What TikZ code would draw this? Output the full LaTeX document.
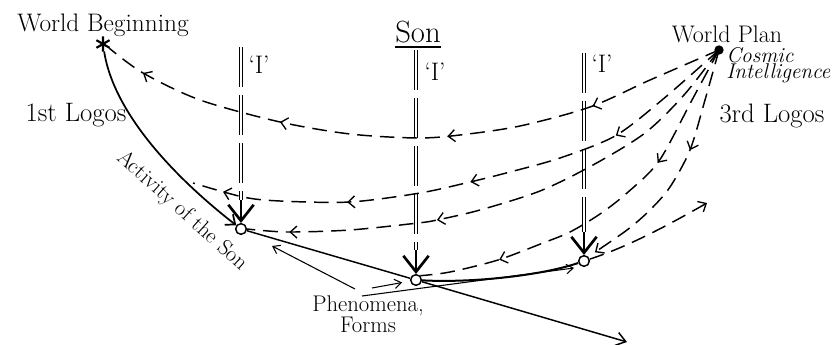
\documentclass[tikz,border=0pt]{standalone}
\usepackage{tikz}
\usetikzlibrary{arrows.meta,decorations.markings}

\tikzset{
  flowtip/.tip={Straight Barb[length=5pt,width=9pt,line width=1pt]},
  flow/.style={line width=1.1pt, dash pattern=on 11pt off 6pt},
  flowat/.style={postaction={decorate,decoration={markings,mark=at position #1 with {\arrow{flowtip}}}}},
  egoline/.style={line width=1.4pt, double distance=0.8pt, dash pattern=on 30pt off 6pt},
  egotip/.style={line width=1.8pt, -{Straight Barb[length=12pt,width=19pt,line width=2pt]}},
  point/.style={circle, draw, fill=white, line width=1.1pt, minimum size=8pt, inner sep=0pt},
  lbl/.style={inner sep=0pt, anchor=base},
  thinarrow/.style={line width=0.8pt, -{Straight Barb[length=5pt,width=7pt]}},
}

\begin{document}
\begin{tikzpicture}[x=0.75pt,y=-0.75pt]
    \useasboundingbox (0,0) rectangle (834,345);

    % points
    \node[circle, minimum size=11pt, inner sep=0pt] (wb) at (103,44) {};
    \draw[line width=1.6pt] (wb.90) -- (wb.270) (wb.30) -- (wb.210) (wb.150) -- (wb.330);
    \node[circle, fill, minimum size=7pt, inner sep=0pt] (wp) at (719,50) {};
    \node[point] (A) at (241,229) {};
    \node[point] (B) at (416,280) {};
    \node[point] (C) at (584,261) {};

    % labels
    \node[lbl, font=\fontsize{19}{22}\selectfont] (wbl) at (103,32) {World Beginning};
    \node[lbl, font=\fontsize{18}{21}\selectfont] (wpl) at (727,43) {World Plan};
    \node[lbl, anchor=base west, font=\itshape\fontsize{16}{19}\selectfont] (cos) at (726,63) {Cosmic};
    \node[lbl, anchor=base west, font=\itshape\fontsize{16}{19}\selectfont] (intel) at (726,79) {Intelligence};
    \node[lbl, font=\fontsize{23}{27}\selectfont] (son) at (418,43) {Son};
    \draw[line width=1pt] ([yshift=-3pt]son.base west) -- ([yshift=-3pt]son.base east);
    \node[lbl, font=\fontsize{19}{22}\selectfont] (iA) at (259,74) {`I'};
    \node[lbl, font=\fontsize{19}{22}\selectfont] (iB) at (435,81) {`I'};
    \node[lbl, font=\fontsize{19}{22}\selectfont] (iC) at (602,73) {`I'};
    \node[lbl, font=\fontsize{20}{24}\selectfont] (l1) at (76,122) {1st Logos};
    \node[lbl, font=\fontsize{20}{24}\selectfont] (l3) at (772,123) {3rd Logos};
    \node[font=\fontsize{16.5}{19}\selectfont, rotate=-42, inner sep=0pt] (act) at (182,211) {Activity of the Son};
    \node[font=\fontsize{17}{16}\selectfont, align=center, inner sep=0pt] (ph) at (368,314) {Phenomena,\\Forms};

    % the three 'I' lines
    \coordinate (tA) at (241,47);  \coordinate (mA) at (241,200);
    \coordinate (tB) at (416,50);  \coordinate (mB) at (416,250);
    \coordinate (tC) at (584,53);  \coordinate (mC) at (584,232);
    \draw[egoline] (tA) -- (mA);
    \draw[egotip] (mA) -- (A);
    \draw[egoline] (tB) -- (mB);
    \draw[egotip] (mB) -- (B);
    \draw[egoline] (tC) -- (mC);
    \draw[egotip] (mC) -- (C);

    % 1st logos and the path of the phenomena
    \draw[line width=1.3pt, -{Straight Barb[length=6pt,width=10pt]}] (wb) .. controls (114,115) and (178,180) .. (A);
    \draw[line width=1.1pt] (A) -- (B);
    \coordinate (fend) at (627,342);
    \draw[line width=1.1pt, -{Straight Barb[length=7pt,width=10pt]}] (B) -- (fend);
    \draw[line width=1.5pt] (B) .. controls (470,283) and (540,276) .. (C);
    \coordinate (pf) at (362,296);
    \coordinate (cend) at (574,268);
    \draw[thinarrow] (pf) -- (cend);
    \coordinate (ps1) at (355,289);
    \coordinate (pe1) at (272,246);
    \draw[thinarrow] (ps1) -- (pe1);
    \coordinate (ps2) at (372,288);
    \draw[thinarrow, shorten >=6pt] (ps2) -- (B);

    % 3rd logos: streams out of the world plan
    \draw[flow, flowat=0.215, flowat=0.446, flowat=0.708, flowat=0.935]
        plot[smooth] coordinates {(wp) (650,80) (590,107) (520,126) (460,135) (417,138) (350,134) (280,122) (200,100) (143,73) (wb.-34)};
    \coordinate (c2) at (193,183);
    \draw[flow, flowat=0.236, flowat=0.505, flowat=0.725, flowat=0.945]
        plot[smooth] coordinates {(wp) (662,100) (615,136) (560,158) (510,172) (470,182) (420,193) (350,202) (280,201) (243,197) (c2)};
    \draw[flow, flowat=0.64, flowat=0.92]
        plot[smooth] coordinates {(wp) (684,95) (645,133) (593,165) (540,191) (480,210) (437,220) (418,223) (350,230) (287,232) (A.east)};
    \draw[flow, flowat=0.41, -{flowtip}, shorten >=6pt]
        plot[smooth] coordinates {(wp) (705,100) (690,150) (670,187) (650,210) (627,230) (C.north east)};
    \draw[flow, flowat=0.323, flowat=0.797]
        plot[smooth] coordinates {(wp) (692,100) (659,161) (627,193) (600,214) (570,232) (543,243) (498,260) (450,272) (B.north east)};
    \coordinate (c6) at (707,203);
    \draw[flow, -{flowtip}] (C) .. controls (630,246) and (670,224) .. (c6);
\end{tikzpicture}
\end{document}
